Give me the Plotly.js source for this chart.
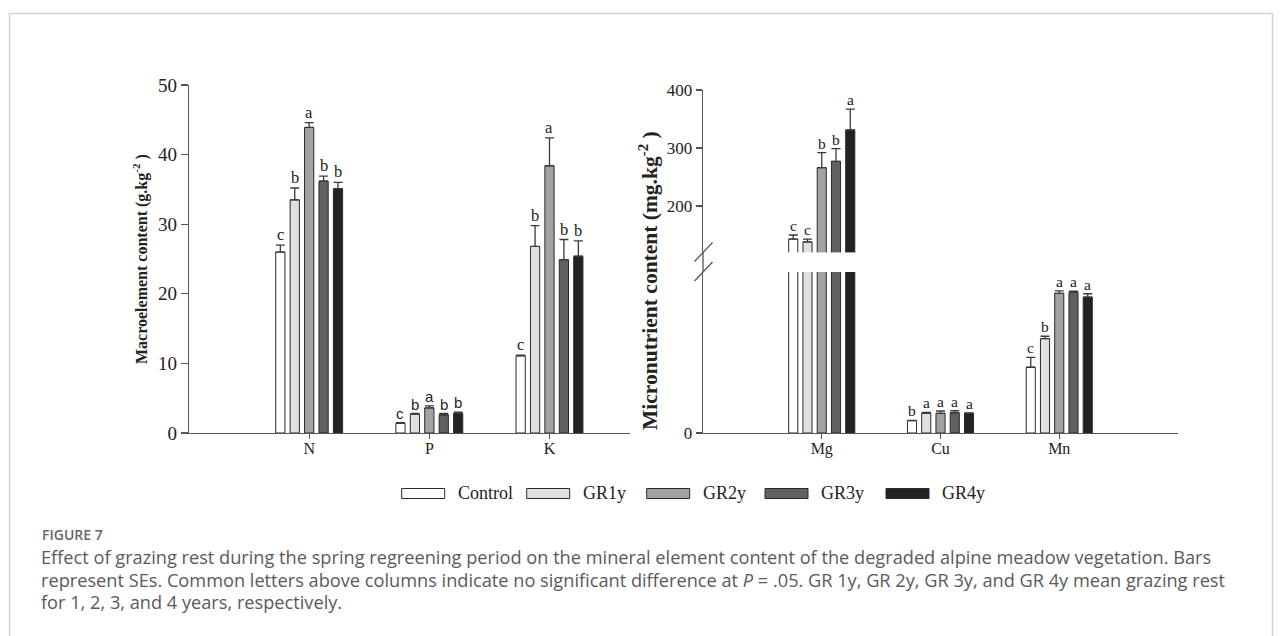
<!DOCTYPE html>
<html><head><meta charset="utf-8">
<script src="https://cdn.plot.ly/plotly-3.0.1.min.js"></script>
<style>html,body{margin:0;padding:0;background:#fff;overflow:hidden}#chart{width:1282px;height:636px}</style>
</head><body><div id="chart"></div>
<script>
// ---------------- DATA ----------------
const series = ['Control', 'GR1y', 'GR2y', 'GR3y', 'GR4y'];
const macroCats = ['N', 'P', 'K'];
const microCats = ['Mg', 'Cu', 'Mn'];

// Macroelements (g.kg-2): N, P, K
const macroControl = [26.0, 1.4, 11.1];
const macroGR1y    = [33.5, 2.7, 26.8];
const macroGR2y    = [43.9, 3.6, 38.4];
const macroGR3y    = [36.2, 2.6, 24.9];
const macroGR4y    = [35.1, 2.8, 25.4];
const macroErrControl = [1.0, 0.1, 0.1];
const macroErrGR1y    = [1.7, 0.1, 3.0];
const macroErrGR2y    = [0.7, 0.3, 4.0];
const macroErrGR3y    = [0.7, 0.2, 2.9];
const macroErrGR4y    = [0.9, 0.2, 2.2];
const macroLetControl = ['c', 'c', 'c'];
const macroLetGR1y    = ['b', 'b', 'b'];
const macroLetGR2y    = ['a', 'a', 'a'];
const macroLetGR3y    = ['b', 'b', 'b'];
const macroLetGR4y    = ['b', 'b', 'b'];

// Micronutrients (mg.kg-2): Mg, Cu, Mn
const microControl = [143, 9.2, 49.0];
const microGR1y    = [138, 14.7, 70.3];
const microGR2y    = [266, 14.7, 104.1];
const microGR3y    = [277, 15.1, 104.8];
const microGR4y    = [331, 14.7, 101.3];
const microErrControl = [7, 0.2, 7.4];
const microErrGR1y    = [5, 0.7, 1.8];
const microErrGR2y    = [26, 1.7, 1.9];
const microErrGR3y    = [22, 1.5, 1.0];
const microErrGR4y    = [36, 0.2, 2.5];
const microLetControl = ['c', 'b', 'c'];
const microLetGR1y    = ['c', 'a', 'b'];
const microLetGR2y    = ['b', 'a', 'a'];
const microLetGR3y    = ['b', 'a', 'a'];
const microLetGR4y    = ['a', 'a', 'a'];

const leftTicks = [0, 10, 20, 30, 40, 50];
const rightUpperTicks = [200, 300, 400];
const rightLowerTicks = [0];

// ---------------- STYLE ----------------
const colors = ['#ffffff', '#e0e0e0', '#a2a2a2', '#616161', '#222222'];
const W = 1282, H = 636;
const px = x => x / W, py = y => (H - y) / H;
const SERIF = 'Liberation Serif, Times New Roman, serif';
const SANS = 'Open Sans, Noto Sans, sans-serif';
const BARGAP = 0.4;
const slot = (1 - BARGAP) / series.length;

const macroVals = [macroControl, macroGR1y, macroGR2y, macroGR3y, macroGR4y];
const macroErrs = [macroErrControl, macroErrGR1y, macroErrGR2y, macroErrGR3y, macroErrGR4y];
const macroLets = [macroLetControl, macroLetGR1y, macroLetGR2y, macroLetGR3y, macroLetGR4y];
const microVals = [microControl, microGR1y, microGR2y, microGR3y, microGR4y];
const microErrs = [microErrControl, microErrGR1y, microErrGR2y, microErrGR3y, microErrGR4y];
const microLets = [microLetControl, microLetGR1y, microLetGR2y, microLetGR3y, microLetGR4y];

function barTrace(name, vals, errs, color, xa, ya, cats) {
  return {
    type: 'bar', name: name, x: cats.map((c, i) => i), y: vals,
    xaxis: xa, yaxis: ya, showlegend: false, hoverinfo: 'skip',
    marker: {color: color, line: {color: '#2a2a2a', width: 1}},
    error_y: {type: 'data', symmetric: false, array: errs, arrayminus: errs.map(() => 0),
              color: '#3a3a3a', thickness: 1.3, width: 4.5}
  };
}

const traces = [];
series.forEach((s, j) => traces.push(barTrace(s, macroVals[j], macroErrs[j], colors[j], 'x', 'y', macroCats)));
series.forEach((s, j) => traces.push(barTrace(s, microVals[j], microErrs[j], colors[j], 'x2', 'y2', microCats)));
series.forEach((s, j) => traces.push(barTrace(s, microVals[j], microErrs[j], colors[j], 'x2', 'y3', microCats)));

const annotations = [];
// significance letters
series.forEach((s, j) => {
  macroCats.forEach((c, i) => {
    annotations.push({
      xref: 'x', yref: 'y', x: i + (j - 2) * slot, y: macroVals[j][i] + macroErrs[j][i],
      text: macroLets[j][i], showarrow: false, yanchor: 'bottom', xanchor: 'center', yshift: -1,
      font: {family: c === 'P' ? 'Liberation Sans, Arial, sans-serif' : SERIF, size: c === 'P' ? 15 : 16.5, color: '#222'}
    });
  });
  microCats.forEach((c, i) => {
    annotations.push({
      xref: 'x2', yref: i === 0 ? 'y3' : 'y2', x: i + (j - 2) * slot, y: microVals[j][i] + microErrs[j][i],
      text: microLets[j][i], showarrow: false, yanchor: 'bottom', xanchor: 'center', yshift: -1,
      font: {family: SERIF, size: 15.5, color: '#222'}
    });
  });
});

// axis titles
annotations.push({xref: 'paper', yref: 'paper', x: px(140), y: py(259), xanchor: 'center', yanchor: 'middle',
  textangle: -90, showarrow: false,
  text: '<b>Macroelement content (g.kg<sup>-2</sup> )</b>', font: {family: SERIF, size: 16, color: '#222'}});
annotations.push({xref: 'paper', yref: 'paper', x: px(648), y: py(281), xanchor: 'center', yanchor: 'middle',
  textangle: -90, showarrow: false,
  text: '<b>Micronutrient content (mg.kg<sup>-2</sup> )</b>', font: {family: SERIF, size: 21.5, color: '#222'}});

// custom legend
const legendX = [401.7, 526.7, 646.7, 765, 886];
const shapes = [];
series.forEach((s, j) => {
  shapes.push({type: 'rect', xref: 'paper', yref: 'paper', x0: px(legendX[j]), x1: px(legendX[j] + 43),
    y0: py(498.5), y1: py(488.5), fillcolor: colors[j], line: {color: '#2a2a2a', width: 1}});
  annotations.push({xref: 'paper', yref: 'paper', x: px(legendX[j] + 54), y: py(493), xanchor: 'left', yanchor: 'middle',
    showarrow: false, text: s, font: {family: SERIF, size: 18, color: '#222'}});
});

// keep the axis break gap clean, then the axis continuation and break marks
shapes.push({type: 'rect', xref: 'paper', yref: 'paper', x0: px(704), x1: px(1178), y0: py(271.6), y1: py(252.8),
  fillcolor: '#ffffff', line: {width: 0}, layer: 'above'});
shapes.push({type: 'line', xref: 'paper', yref: 'paper', x0: px(703), x1: px(703), y0: py(272), y1: py(252),
  line: {color: '#555', width: 1.3}});
shapes.push({type: 'line', xref: 'paper', yref: 'paper', x0: px(694.5), x1: px(712.5), y0: py(261.5), y1: py(242.5),
  line: {color: '#555', width: 1.2}});
shapes.push({type: 'line', xref: 'paper', yref: 'paper', x0: px(694.5), x1: px(712.5), y0: py(281), y1: py(262),
  line: {color: '#555', width: 1.2}});

// figure frame
shapes.push({type: 'rect', xref: 'paper', yref: 'paper', x0: px(9.5), x1: px(1272.5), y0: -0.05, y1: py(13.5),
  line: {color: '#d2d2d2', width: 1.5}, fillcolor: 'rgba(0,0,0,0)'});

// caption
annotations.push({xref: 'paper', yref: 'paper', x: px(40), y: py(534), xanchor: 'left', yanchor: 'middle', showarrow: false,
  text: 'FIGURE 7', font: {family: SANS, size: 14, color: '#666', weight: 600}});
const captionLines = [
  'Effect of grazing rest during the spring regreening period on the mineral element content of the degraded alpine meadow vegetation. Bars',
  'represent SEs. Common letters above columns indicate no significant difference at <i>P</i> = .05. GR 1y, GR 2y, GR 3y, and GR 4y mean grazing rest',
  'for 1, 2, 3, and 4 years, respectively.'
];
const captionY = [557, 579.5, 602];
captionLines.forEach((t, k) => annotations.push({xref: 'paper', yref: 'paper', x: px(39), y: py(captionY[k]),
  xanchor: 'left', yanchor: 'middle', showarrow: false, text: t, font: {family: SANS, size: 18.2, color: '#5a5a5a'}}));

const axisCommon = {showline: true, linecolor: '#555', linewidth: 1.3, ticks: 'outside', tickcolor: '#555',
  tickwidth: 1.2, showgrid: false, zeroline: false, fixedrange: true};

const layout = {
  width: W, height: H, autosize: false, margin: {l: 0, r: 0, t: 0, b: 0},
  paper_bgcolor: '#fff', plot_bgcolor: 'rgba(0,0,0,0)',
  barmode: 'group', bargap: BARGAP, bargroupgap: 0.36, showlegend: false,
  xaxis: Object.assign({}, axisCommon, {domain: [px(189), px(630)], range: [-1, 2.67], anchor: 'y',
    tickvals: macroCats.map((c, i) => i), ticktext: macroCats, ticklen: 5, ticklabelstandoff: -5,
    tickfont: {family: SERIF, size: 16, color: '#222'}}),
  yaxis: Object.assign({}, axisCommon, {domain: [py(433), py(85)], range: [0, 50], anchor: 'x',
    tickvals: leftTicks, ticktext: leftTicks.map(String), ticklen: 7,
    tickfont: {family: SERIF, size: 19, color: '#222'}}),
  xaxis2: Object.assign({}, axisCommon, {domain: [px(703), px(1178)], range: [-1, 3], anchor: 'y2',
    tickvals: microCats.map((c, i) => i), ticktext: microCats, ticklen: 5, ticklabelstandoff: -5,
    tickfont: {family: SERIF, size: 16, color: '#222'}}),
  yaxis2: Object.assign({}, axisCommon, {domain: [py(433), py(272)], range: [0, 120], anchor: 'x2',
    tickvals: rightLowerTicks, ticktext: rightLowerTicks.map(String), ticklen: 6,
    tickfont: {family: SERIF, size: 17, color: '#222'}}),
  yaxis3: Object.assign({}, axisCommon, {domain: [py(252.4), py(90)], range: [120, 400], anchor: 'x2',
    tickvals: rightUpperTicks, ticktext: rightUpperTicks.map(String), ticklen: 6,
    tickfont: {family: SERIF, size: 17, color: '#222'}}),
  annotations: annotations, shapes: shapes
};

Plotly.newPlot('chart', traces, layout, {displayModeBar: false, staticPlot: true});
</script></body></html>
